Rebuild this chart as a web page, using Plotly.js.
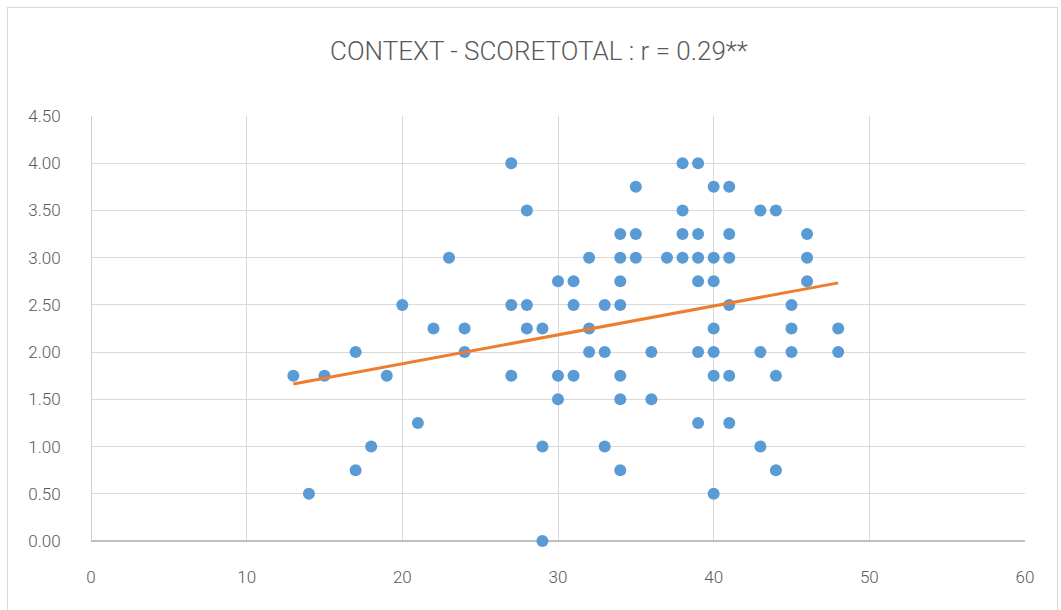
<!DOCTYPE html>
<html>
<head>
<meta charset="utf-8">
<script src="https://cdn.plot.ly/plotly-3.0.1.min.js"></script>
<style>
  html, body { margin: 0; padding: 0; background: #ffffff; }
  #frame { position: absolute; left: 7px; top: 7px; width: 1051px; height: 610px; border: 1px solid #d9d9d9; box-sizing: border-box; }
  #chart { position: absolute; left: 0; top: 0; width: 1061px; height: 610px; }
</style>
</head>
<body>
<div id="frame"></div>
<div id="chart"></div>
<script>
// CONTEXT values (x) and SCORETOTAL values (y)
const contextX = [
  27, 38, 39,
  35, 40, 41,
  28, 38, 43, 44,
  34, 35, 38, 39, 41, 46,
  23, 32, 34, 35, 37, 38, 39, 40, 41, 46,
  30, 31, 34, 39, 40, 46,
  20, 27, 28, 31, 33, 34, 41, 45,
  22, 24, 28, 29, 32, 40, 45, 48,
  17, 24, 32, 33, 36, 39, 40, 43, 45, 48,
  13, 15, 19, 27, 30, 31, 34, 40, 41, 44,
  30, 34, 36,
  21, 39, 41,
  18, 29, 33, 43,
  17, 34, 44,
  14, 40,
  29
];
const scoreY = [
  4.00, 4.00, 4.00,
  3.75, 3.75, 3.75,
  3.50, 3.50, 3.50, 3.50,
  3.25, 3.25, 3.25, 3.25, 3.25, 3.25,
  3.00, 3.00, 3.00, 3.00, 3.00, 3.00, 3.00, 3.00, 3.00, 3.00,
  2.75, 2.75, 2.75, 2.75, 2.75, 2.75,
  2.50, 2.50, 2.50, 2.50, 2.50, 2.50, 2.50, 2.50,
  2.25, 2.25, 2.25, 2.25, 2.25, 2.25, 2.25, 2.25,
  2.00, 2.00, 2.00, 2.00, 2.00, 2.00, 2.00, 2.00, 2.00, 2.00,
  1.75, 1.75, 1.75, 1.75, 1.75, 1.75, 1.75, 1.75, 1.75, 1.75,
  1.50, 1.50, 1.50,
  1.25, 1.25, 1.25,
  1.00, 1.00, 1.00, 1.00,
  0.75, 0.75, 0.75,
  0.50, 0.50,
  0.00
];
// Linear trendline endpoints
const trendX = [13, 48];
const trendY = [1.663, 2.733];

const titleText = 'CONTEXT - SCORETOTAL : r = 0.29**';
const xTicks = [0, 10, 20, 30, 40, 50, 60];
const yTicks = [0, 0.5, 1, 1.5, 2, 2.5, 3, 3.5, 4, 4.5];

const font = 'Roboto, Liberation Sans, Arial, sans-serif';
const grey = '#595959';

const traces = [
  {
    type: 'scatter', mode: 'markers',
    x: contextX, y: scoreY,
    marker: { color: '#5b9bd5', size: 12, line: { width: 0 } },
    cliponaxis: false,
    hoverinfo: 'x+y', showlegend: false
  },
  {
    type: 'scatter', mode: 'lines',
    x: trendX, y: trendY,
    line: { color: '#ed7d31', width: 3 },
    cliponaxis: false,
    hoverinfo: 'skip', showlegend: false
  }
];

const layout = {
  width: 1061, height: 610,
  paper_bgcolor: 'rgba(0,0,0,0)',
  plot_bgcolor: 'rgba(0,0,0,0)',
  margin: { l: 91, r: 36, t: 116, b: 69, pad: 0 },
  title: {
    text: titleText,
    font: { family: font, size: 26, color: grey, weight: 300 },
    x: 0.508, xref: 'container', xanchor: 'center',
    y: 1 - 51 / 610, yref: 'container', yanchor: 'middle'
  },
  xaxis: {
    range: [0, 60],
    tickvals: xTicks,
    ticktext: xTicks.map(v => String(v)),
    showgrid: true, gridcolor: '#d9d9d9', gridwidth: 1,
    zeroline: false,
    showline: false,
    ticks: 'outside', ticklen: 21, tickcolor: 'rgba(0,0,0,0)',
    tickfont: { family: font, size: 17, color: grey, weight: 300 },
    fixedrange: true
  },
  yaxis: {
    range: [0, 4.5],
    tickvals: yTicks,
    ticktext: yTicks.map(v => v.toFixed(2)),
    showgrid: true, gridcolor: '#d9d9d9', gridwidth: 1,
    zeroline: true, zerolinecolor: '#bfbfbf', zerolinewidth: 1.5,
    showline: false,
    ticks: 'outside', ticklen: 26, tickcolor: 'rgba(0,0,0,0)',
    tickfont: { family: font, size: 17, color: grey, weight: 300 },
    fixedrange: true
  },
  shapes: [
    { type: 'line', xref: 'x', yref: 'y', x0: 0, x1: 0, y0: 0, y1: 4.5,
      line: { color: '#bfbfbf', width: 1.5 }, layer: 'below' }
  ],
  showlegend: false
};

Plotly.newPlot('chart', traces, layout, { displayModeBar: false, staticPlot: true });
</script>
</body>
</html>
